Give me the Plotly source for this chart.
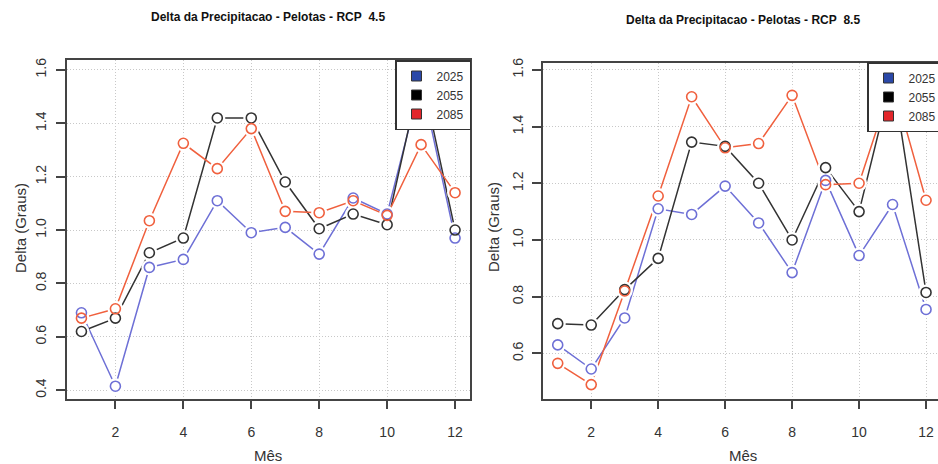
import plotly.graph_objects as go

# ---------------- data ----------------
months = list(range(1, 13))
years = ["2025", "2055", "2085"]

rcp45_2025 = [0.69, 0.415, 0.86, 0.89, 1.11, 0.99, 1.01, 0.91, 1.12, 1.06, 1.56, 0.97]
rcp45_2055 = [0.62, 0.67, 0.915, 0.97, 1.42, 1.42, 1.18, 1.005, 1.06, 1.02, 1.59, 1.00]
rcp45_2085 = [0.67, 0.705, 1.035, 1.325, 1.23, 1.38, 1.07, 1.065, 1.11, 1.055, 1.32, 1.14]

rcp85_2025 = [0.63, 0.545, 0.725, 1.11, 1.09, 1.19, 1.06, 0.885, 1.21, 0.945, 1.125, 0.755]
rcp85_2055 = [0.705, 0.70, 0.825, 0.935, 1.345, 1.33, 1.20, 1.00, 1.255, 1.10, 1.58, 0.815]
rcp85_2085 = [0.565, 0.49, 0.82, 1.155, 1.505, 1.325, 1.34, 1.51, 1.195, 1.20, 1.56, 1.14]

x_ticks = [2, 4, 6, 8, 10, 12]
y_ticks = [0.4, 0.6, 0.8, 1.0, 1.2, 1.4, 1.6]
y_ticktext = ["0.4", "0.6", "0.8", "1.0", "1.2", "1.4", "1.6"]

title_45 = "Delta da Precipitacao - Pelotas - RCP\u00a0\u00a04.5"
title_85 = "Delta da Precipitacao - Pelotas - RCP\u00a0\u00a08.5"
x_title = "Mês"
y_title = "Delta (Graus)"

# ---------------- style ----------------
W, H = 938, 464
FONT = "Liberation Sans"
line_colors = ["#6e70d6", "#333333", "#f0603e"]
legend_colors = ["#2a48a8", "#000000", "#e3262b"]
axis_col = "#444444"
grid_col = "#c8c8c8"

def px_x(p):
    return p / W

def px_y(p):
    return (H - p) / H

fig = go.Figure()

panels = [
    ("x", "y", [rcp45_2025, rcp45_2055, rcp45_2085], "legend"),
    ("x2", "y2", [rcp85_2025, rcp85_2055, rcp85_2085], "legend2"),
]

for xa, ya, series, leg in panels:
    # connecting lines
    for vals, col in zip(series, line_colors):
        fig.add_trace(go.Scatter(
            x=months, y=vals, xaxis=xa, yaxis=ya, mode="lines",
            line=dict(color=col, width=1.5), showlegend=False,
            hoverinfo="skip",
        ))
    # white gaps around points (R type="b" look)
    for vals in series:
        fig.add_trace(go.Scatter(
            x=months, y=vals, xaxis=xa, yaxis=ya, mode="markers",
            marker=dict(symbol="circle", size=16, color="white"),
            showlegend=False, hoverinfo="skip", cliponaxis=True,
        ))
    # open circles
    for vals, col in zip(series, line_colors):
        fig.add_trace(go.Scatter(
            x=months, y=vals, xaxis=xa, yaxis=ya, mode="markers",
            marker=dict(symbol="circle-open", size=10,
                        line=dict(color=col, width=1.6), color=col),
            showlegend=False, cliponaxis=True,
        ))
    for name, col in zip(years, legend_colors):
        fig.add_trace(go.Scatter(
            x=[None], y=[None], xaxis=xa, yaxis=ya, mode="markers", name=name,
            marker=dict(symbol="square", size=10, color=col,
                        line=dict(color="#333333", width=1)),
            legend=leg, showlegend=True,
        ))

common_x = dict(
    tickmode="array", tickvals=x_ticks, ticks="outside", ticklen=9,
    tickwidth=1.5, tickcolor=axis_col, showline=True, linecolor=axis_col,
    linewidth=1.5, showgrid=True, gridcolor=grid_col, griddash="1px,2px",
    gridwidth=1, zeroline=False, ticklabelstandoff=11, automargin=False,
    tickfont=dict(family=FONT, size=14, color="#333333"),
)
common_y = dict(
    tickmode="array", tickvals=y_ticks, ticktext=y_ticktext, ticks="outside",
    ticklen=9, tickwidth=1.5, tickcolor=axis_col, showline=True,
    linecolor=axis_col, linewidth=1.5, showgrid=True, gridcolor=grid_col,
    griddash="1px,2px", gridwidth=1, zeroline=False, tickangle=-90,
    automargin=False, ticklabelstandoff=4,
    tickfont=dict(family=FONT, size=14, color="#333333"),
)

leg_common = dict(xanchor="left", yanchor="top", xref="container",
                  yref="container", bgcolor="white", bordercolor="#333333",
                  borderwidth=1.5, font=dict(family=FONT, size=12, color="#333333"),
                  itemwidth=30, tracegroupgap=0)

fig.update_layout(
    width=W, height=H,
    margin=dict(l=0, r=0, t=0, b=0, pad=0, autoexpand=False),
    paper_bgcolor="white", plot_bgcolor="white",
    font=dict(family=FONT, color="#333333"),
    xaxis=dict(common_x, domain=[px_x(66.5), px_x(470)], range=[0.56, 12.44],
               mirror=True, anchor="y"),
    yaxis=dict(common_y, domain=[px_y(398.5), px_y(60)], range=[0.369, 1.637],
               mirror=True, anchor="x"),
    xaxis2=dict(common_x, domain=[px_x(543), 1.0], range=[0.56, 12.357],
                mirror=True, anchor="y2"),
    yaxis2=dict(common_y, domain=[px_y(398.5), px_y(63)], range=[0.441, 1.624],
                mirror=False, anchor="x2"),
    legend=dict(leg_common, x=px_x(395), y=px_y(60)),
    legend2=dict(leg_common, x=px_x(867), y=px_y(62)),
    annotations=[
        dict(text="<b>" + title_45 + "</b>", x=px_x(268), y=px_y(17),
             xref="paper", yref="paper", showarrow=False,
             font=dict(family=FONT, size=12, color="#111111"),
             xanchor="center", yanchor="middle"),
        dict(text="<b>" + title_85 + "</b>", x=px_x(743), y=px_y(20),
             xref="paper", yref="paper", showarrow=False,
             font=dict(family=FONT, size=12, color="#111111"),
             xanchor="center", yanchor="middle"),
        dict(text=x_title, x=px_x(268), y=px_y(455), xref="paper", yref="paper",
             showarrow=False, font=dict(family=FONT, size=15, color="#333333"),
             xanchor="center", yanchor="middle"),
        dict(text=x_title, x=px_x(743), y=px_y(455), xref="paper", yref="paper",
             showarrow=False, font=dict(family=FONT, size=15, color="#333333"),
             xanchor="center", yanchor="middle"),
        dict(text=y_title, x=px_x(20), y=px_y(228), xref="paper", yref="paper",
             showarrow=False, textangle=-90,
             font=dict(family=FONT, size=15, color="#333333"),
             xanchor="center", yanchor="middle"),
        dict(text=y_title, x=px_x(493), y=px_y(227), xref="paper", yref="paper",
             showarrow=False, textangle=-90,
             font=dict(family=FONT, size=15, color="#333333"),
             xanchor="center", yanchor="middle"),
    ],
)

fig.write_html(
    "out.html",
    config={"displayModeBar": False},
    post_script="document.body.style.margin='0';"
                "document.body.style.overflow='hidden';",
)
